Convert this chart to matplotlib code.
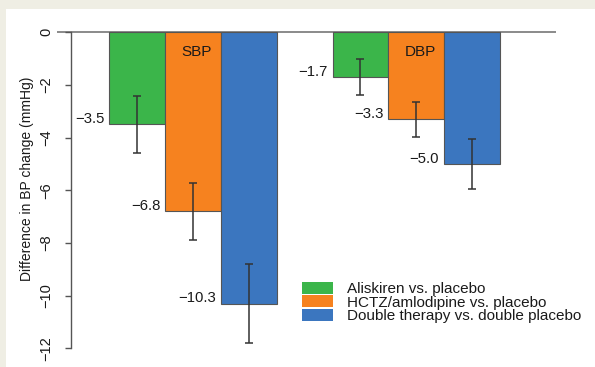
import matplotlib
matplotlib.use("Agg")
import matplotlib.pyplot as plt
from matplotlib.patches import Patch, Rectangle

plt.rcParams['font.family'] = ['Liberation Sans', 'DejaVu Sans']

# Data
groups = ["SBP", "DBP"]
series = ["Aliskiren vs. placebo",
          "HCTZ/amlodipine vs. placebo",
          "Double therapy vs. double placebo"]
colors = ["#3bb54a", "#f6821f", "#3b76bf"]
values = {"SBP": [-3.5, -6.8, -10.3],
          "DBP": [-1.7, -3.3, -5.0]}
errors = {"SBP": [1.07, 1.08, 1.5],
          "DBP": [0.67, 0.66, 0.94]}
yticks = [0, -2, -4, -6, -8, -10, -12]

W, H = 595, 367
fig = plt.figure(figsize=(W / 100, H / 100), dpi=100)
fig.patch.set_facecolor('#efeee4')
fig.patches.append(Rectangle((5.7 / W, 0), 1, (H - 8.7) / H, transform=fig.transFigure,
                             facecolor='white', edgecolor='none', zorder=-10))

ax = fig.add_axes([56.7 / W, (H - 362) / H, 499 / W, 347 / H])
ax.set_facecolor('none')

for g, grp in enumerate(groups):
    for i, (v, e) in enumerate(zip(values[grp], errors[grp])):
        x0 = g * 4 + i
        ax.bar(x0, v, width=1, align='edge', color=colors[i],
               edgecolor='#555555', linewidth=0.8, zorder=2)
        ax.errorbar(x0 + 0.5, v, yerr=e, fmt='none', ecolor='#333333',
                    elinewidth=1.1, capsize=2.6, capthick=1.1, zorder=3)
        ax.annotate("{:.1f}".format(v).replace('-', '\u2212'), (x0, v),
                    xytext=(-3.5, 0.8), textcoords='offset points',
                    ha='right', va='baseline', fontsize=10.7, color='#1a1a1a')
    ax.text(g * 4 + 1.57, -0.73, grp, ha='center', va='center',
            fontsize=11, color='#1a1a1a', zorder=4)

ax.axhline(0, color='#777777', linewidth=1.2, zorder=1)

ax.set_xlim(-0.943, 8.0)
ax.set_ylim(-12.52, 0.657)
for s in ['top', 'right', 'bottom']:
    ax.spines[s].set_visible(False)
ax.spines['left'].set_position(('data', -0.69))
ax.spines['left'].set_bounds(-12, 0)
ax.spines['left'].set_color('#555555')
ax.spines['left'].set_linewidth(1.0)
ax.set_xticks([])
ax.set_yticks(yticks)
ax.set_yticklabels([str(t).replace('-', '\u2212') for t in yticks],
                   rotation=90, va='center', fontsize=10.5, color='#1a1a1a')
ax.tick_params(axis='y', length=4, width=1.0, color='#555555', pad=8.4)

fig.text(27.5 / W, 1 - 179 / H, "Difference in BP change (mmHg)", rotation=90,
         ha='center', va='center', fontsize=10, color='#1a1a1a')

handles = [Patch(facecolor=c, edgecolor='none') for c in colors]
ax.legend(handles, series, loc='upper left', frameon=False, fontsize=11,
          labelcolor='#1a1a1a',
          bbox_to_anchor=(301.7 / W, (H - 282) / H), bbox_transform=fig.transFigure,
          handlelength=2.03, handleheight=0.82, labelspacing=-0.05,
          handletextpad=0.92, borderpad=0, borderaxespad=0)

fig.savefig("out.png", dpi=100)
